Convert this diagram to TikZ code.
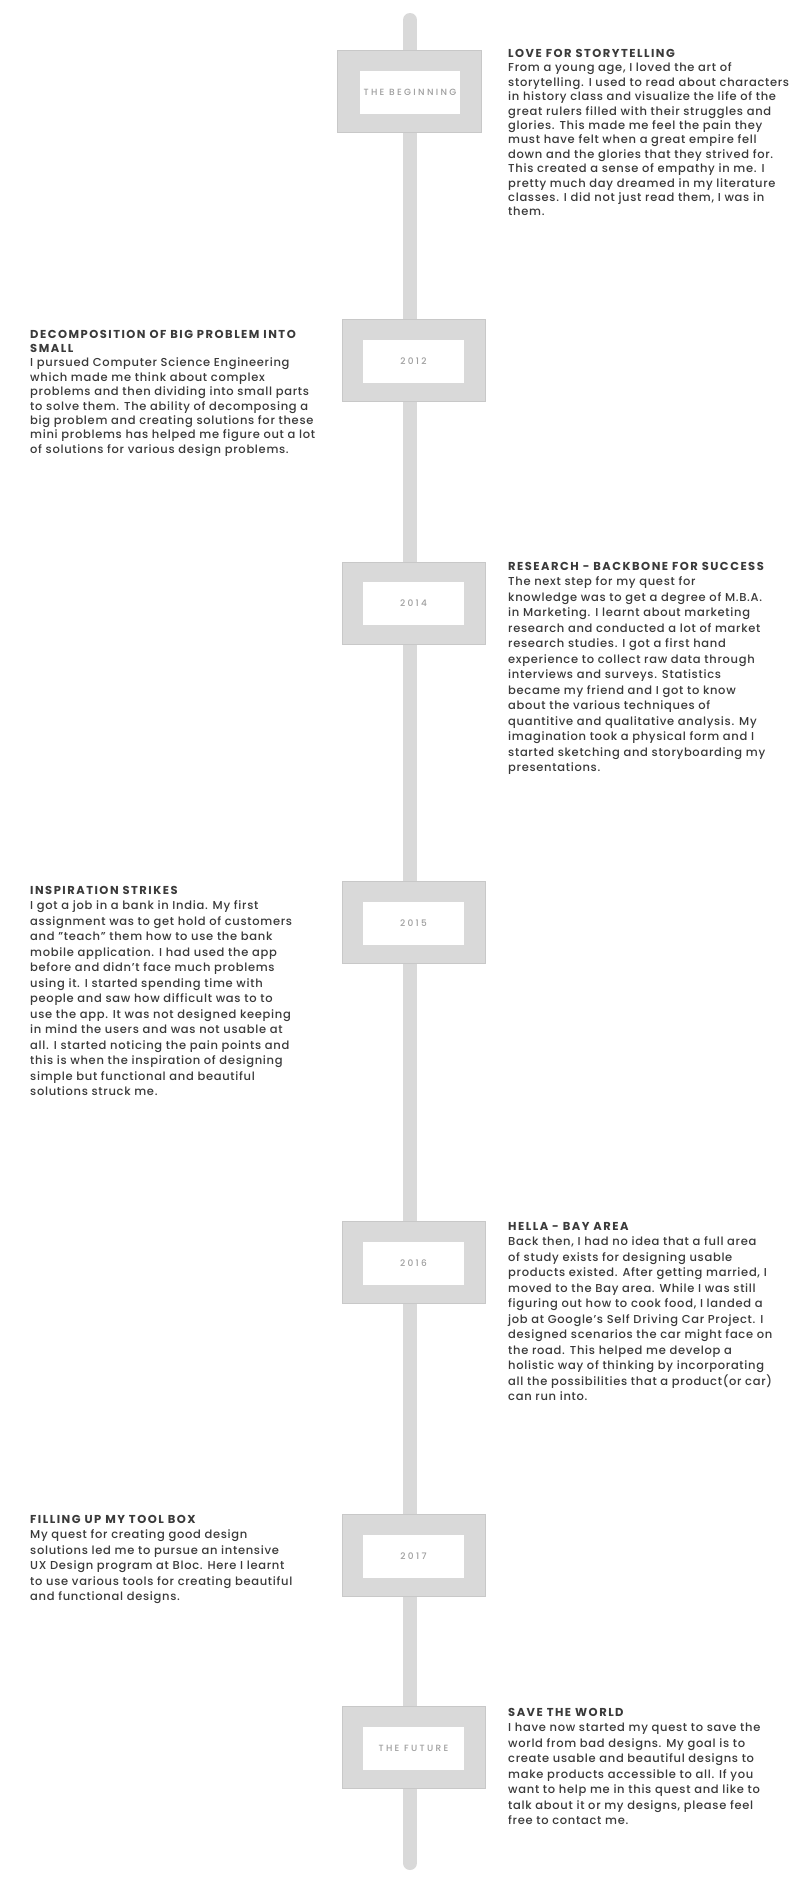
\documentclass[tikz,border=0pt]{standalone}
\usepackage{fontspec}
\setmainfont{Poppins}[UprightFont=* Medium, BoldFont=* Bold]
\definecolor{polegray}{HTML}{D9D9D9}
\definecolor{edgegray}{HTML}{C8C8C8}
\definecolor{labelgray}{HTML}{9E9E9E}
\definecolor{textdark}{HTML}{3A3A3A}
\newcommand{\blocktext}[3]{\parbox[t]{320pt}{\fontsize{11.5}{#1}\selectfont\raggedright{\addfontfeatures{LetterSpace=13}\textbf{#2}}\\\addfontfeatures{LetterSpace=6}#3}}
\tikzset{
  poleline/.style={draw=polegray, line width=14pt, line cap=round},
  outerbox/.style={fill=polegray, draw=edgegray, line width=0.6pt, minimum width=143pt, minimum height=82pt, inner sep=0pt},
  innerbox/.style={fill=white, draw=none, minimum width=101pt, minimum height=43pt, inner sep=0pt, text=labelgray, font=\fontsize{9}{10}\selectfont\addfontfeatures{LetterSpace=26}},
  blk/.style={anchor=base west, inner sep=0pt, text=textdark},
}
\begin{document}
\begin{tikzpicture}[x=1pt,y=-1pt]
\useasboundingbox (0,0) rectangle (800,1883);
\fill[white] (0,0) rectangle (800,1883);
\coordinate (ptop) at (410,20);
\coordinate (pbot) at (410,1863);
\draw[poleline] (ptop) -- (pbot);

\node[outerbox, minimum width=144pt] (b0) at (409,91) {};
\node[innerbox, minimum width=100pt] (l0) at (410,92.5) {THE BEGINNING};
\node[outerbox] (b1) at (413.5,360.5) {};
\node[innerbox] (l1) at (413.5,361.5) {2012};
\node[outerbox] (b2) at (413.5,603) {};
\node[innerbox] (l2) at (413.5,603.5) {2014};
\node[outerbox] (b3) at (413.5,922) {};
\node[innerbox] (l3) at (413.5,923) {2015};
\node[outerbox] (b4) at (413.5,1262.5) {};
\node[innerbox] (l4) at (413.5,1263) {2016};
\node[outerbox] (b5) at (413.5,1555.5) {};
\node[innerbox] (l5) at (413.5,1556) {2017};
\node[outerbox] (b6) at (413.5,1747) {};
\node[innerbox] (l6) at (413.5,1748) {THE FUTURE};

\node[blk] (t0) at (508,57.5) {\blocktext{14.4}{LOVE FOR STORYTELLING}{From a young age, I loved the art of\\storytelling. I used to read about characters\\in history class and visualize the life of the\\great rulers filled with their struggles and\\glories. This made me feel the pain they\\must have felt when a great empire fell\\down and the glories that they strived for.\\This created a sense of empathy in me. I\\pretty much day dreamed in my literature\\classes. I did not just read them, I was in\\them.}};

\node[blk] (t1) at (30,338) {\blocktext{14.4}{DECOMPOSITION OF BIG PROBLEM INTO\\SMALL}{I pursued Computer Science Engineering\\which made me think about complex\\problems and then dividing into small parts\\to solve them. The ability of decomposing a\\big problem and creating solutions for these\\mini problems has helped me figure out a lot\\of solutions for various design problems.}};

\node[blk] (t2) at (508,570) {\blocktext{15.5}{RESEARCH - BACKBONE FOR SUCCESS}{The next step for my quest for\\knowledge was to get a degree of M.B.A.\\in Marketing. I learnt about marketing\\research and conducted a lot of market\\research studies. I got a first hand\\experience to collect raw data through\\interviews and surveys. Statistics\\became my friend and I got to know\\about the various techniques of\\quantitive and qualitative analysis. My\\imagination took a physical form and I\\started sketching and storyboarding my\\presentations.}};

\node[blk] (t3) at (30,894) {\blocktext{15.5}{INSPIRATION STRIKES}{I got a job in a bank in India. My first\\assignment was to get hold of customers\\and "teach" them how to use the bank\\mobile application. I had used the app\\before and didn't face much problems\\using it. I started spending time with\\people and saw how difficult was to to\\use the app. It was not designed keeping\\in mind the users and was not usable at\\all. I started noticing the pain points and\\this is when the inspiration of designing\\simple but functional and beautiful\\solutions struck me.}};

\node[blk] (t4) at (508,1230) {\blocktext{15.5}{HELLA - BAY AREA}{Back then, I had no idea that a full area\\of study exists for designing usable\\products existed. After getting married, I\\moved to the Bay area. While I was still\\figuring out how to cook food, I landed a\\job at Google's Self Driving Car Project. I\\designed scenarios the car might face on\\the road. This helped me develop a\\holistic way of thinking by incorporating\\all the possibilities that a product(or car)\\can run into.}};

\node[blk] (t5) at (30,1523) {\blocktext{15.5}{FILLING UP MY TOOL BOX}{My quest for creating good design\\solutions led me to pursue an intensive\\UX Design program at Bloc. Here I learnt\\to use various tools for creating beautiful\\and functional designs.}};

\node[blk] (t6) at (508,1716) {\blocktext{15.5}{SAVE THE WORLD}{I have now started my quest to save the\\world from bad designs. My goal is to\\create usable and beautiful designs to\\make products accessible to all. If you\\want to help me in this quest and like to\\talk about it or my designs, please feel\\free to contact me.}};
\end{tikzpicture}
\end{document}
